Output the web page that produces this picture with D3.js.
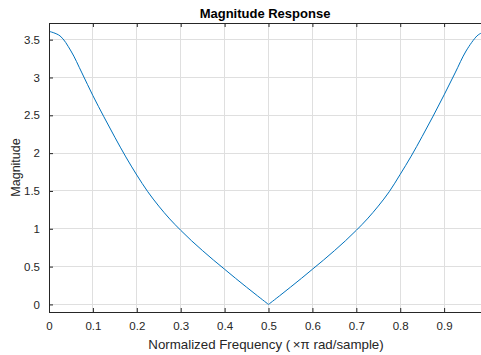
<!DOCTYPE html>
<html>
<head>
<meta charset="utf-8">
<script src="https://cdn.jsdelivr.net/npm/d3@7"></script>
<style>
  html, body { margin: 0; padding: 0; background: #fff; }
  svg { display: block; font-family: "Liberation Sans", Arial, Helvetica, sans-serif; }
</style>
</head>
<body>
<svg id="chart" width="481" height="355"></svg>
<script>
// normalized frequency (x pi rad/sample) and magnitude
const freqLeft  = [0, 0.025, 0.05, 0.075, 0.1, 0.125, 0.15, 0.175, 0.2, 0.225, 0.25,
                   0.275, 0.3, 0.325, 0.35, 0.375, 0.4, 0.425, 0.45, 0.475, 0.5];
const magLeft   = [3.61, 3.55, 3.35, 3.06, 2.76, 2.48, 2.21, 1.95, 1.71, 1.49, 1.30,
                   1.13, 0.98, 0.84, 0.71, 0.585, 0.465, 0.345, 0.228, 0.113, 0.00];
const freqRight = [0.5, 0.525, 0.55, 0.575, 0.6, 0.625, 0.65, 0.675, 0.7, 0.725, 0.75,
                   0.775, 0.8, 0.825, 0.85, 0.875, 0.9, 0.925, 0.95, 0.975, 0.984];
const magRight  = [0.00, 0.113, 0.228, 0.345, 0.465, 0.585, 0.71, 0.84, 0.98, 1.13, 1.30,
                   1.49, 1.72, 1.96, 2.22, 2.49, 2.77, 3.06, 3.35, 3.55, 3.585];

const xTicks = [0, 0.1, 0.2, 0.3, 0.4, 0.5, 0.6, 0.7, 0.8, 0.9];
const yTicks = [0, 0.5, 1, 1.5, 2, 2.5, 3, 3.5];

const titleText  = 'Magnitude Response';
const xLabelText = 'Normalized Frequency (\u2009\u00d7\u03c0 rad/sample)';
const yLabelText = 'Magnitude';

const W = 481, H = 355;
const m = { left: 49, right: 0, top: 23, bottom: 43 };
const ink = '#262626';

const svg = d3.select('#chart');

const x = d3.scaleLinear().domain([0, 0.984]).range([m.left, W - m.right]);
const y = d3.scaleLinear().domain([-0.1, 3.72]).range([H - m.bottom, m.top]);

// grid
const grid = svg.append('g').attr('class', 'grid');
grid.selectAll('line.gx')
  .data(xTicks.slice(1))
  .enter().append('line')
  .attr('x1', d => x(d)).attr('x2', d => x(d))
  .attr('y1', m.top).attr('y2', H - m.bottom)
  .attr('stroke', '#dfdfdf').attr('stroke-width', 1)
  .attr('shape-rendering', 'crispEdges');
grid.selectAll('line.gy')
  .data(yTicks)
  .enter().append('line')
  .attr('x1', m.left).attr('x2', W - m.right)
  .attr('y1', d => y(d)).attr('y2', d => y(d))
  .attr('stroke', '#dfdfdf').attr('stroke-width', 1)
  .attr('shape-rendering', 'crispEdges');

// curve, split at the notch so it keeps its sharp point
const line = d3.line()
  .x(d => x(d[0]))
  .y(d => y(d[1]))
  .curve(d3.curveCatmullRom.alpha(0.5));

const halves = [d3.zip(freqLeft, magLeft), d3.zip(freqRight, magRight)];
svg.append('g').attr('class', 'response')
  .selectAll('path')
  .data(halves)
  .enter().append('path')
  .attr('d', line)
  .attr('fill', 'none')
  .attr('stroke', '#0072BD')
  .attr('stroke-width', 1);

// axes (ticks point inward, box on)
const axisStyle = g => {
  g.select('.domain').attr('stroke', ink);
  g.selectAll('.tick line').attr('stroke', ink);
  g.selectAll('.tick text').attr('fill', ink).style('font-size', '11.5px');
};

svg.append('g')
  .attr('transform', `translate(0,${H - m.bottom})`)
  .call(d3.axisBottom(x).tickValues(xTicks).tickFormat(d3.format('')).tickSizeInner(-4).tickSizeOuter(0).tickPadding(10))
  .call(axisStyle)
  .attr('font-family', null);

svg.append('g')
  .attr('transform', `translate(0,${m.top})`)
  .call(d3.axisTop(x).tickValues(xTicks).tickFormat('').tickSizeInner(-4).tickSizeOuter(0))
  .call(axisStyle);

svg.append('g')
  .attr('transform', `translate(${m.left},0)`)
  .call(d3.axisLeft(y).tickValues(yTicks).tickFormat(d3.format('')).tickSizeInner(-4).tickSizeOuter(0).tickPadding(9))
  .call(axisStyle)
  .attr('font-family', null);

svg.selectAll('.domain').attr('shape-rendering', 'crispEdges');

// title and labels
svg.append('text')
  .attr('x', (m.left + W - m.right) / 2)
  .attr('y', 18)
  .attr('text-anchor', 'middle')
  .attr('fill', '#000')
  .style('font-size', '13px')
  .style('font-weight', 'bold')
  .text(titleText);

svg.append('text')
  .attr('x', (m.left + W - m.right) / 2 + 1)
  .attr('y', 349)
  .attr('text-anchor', 'middle')
  .attr('fill', ink)
  .style('font-size', '13.3px')
  .text(xLabelText);

svg.append('text')
  .attr('transform', `translate(20,${(m.top + H - m.bottom) / 2}) rotate(-90)`)
  .attr('text-anchor', 'middle')
  .attr('fill', ink)
  .style('font-size', '12.5px')
  .text(yLabelText);
</script>
</body>
</html>
